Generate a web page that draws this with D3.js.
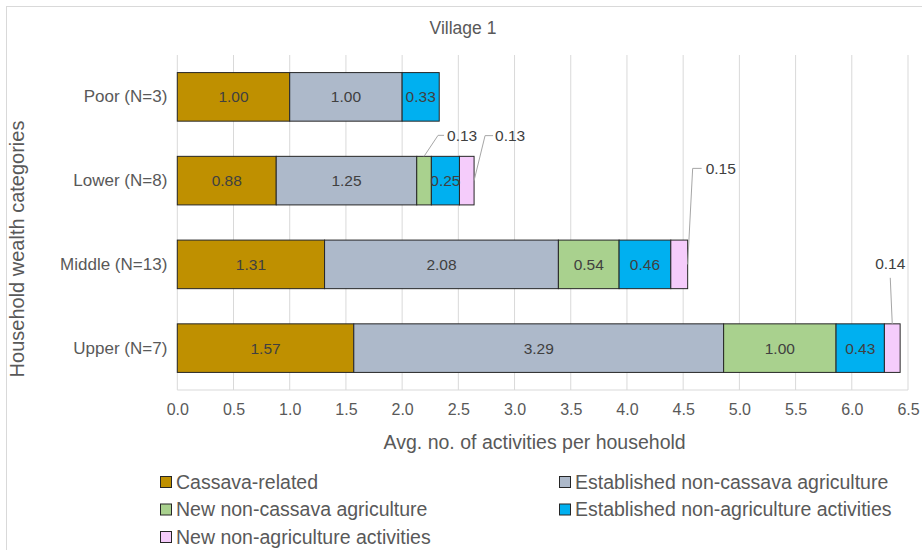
<!DOCTYPE html>
<html>
<head>
<meta charset="utf-8">
<script src="https://cdn.jsdelivr.net/npm/d3@7"></script>
<style>
  body { margin: 0; background: #fff; }
  text { font-family: "Liberation Sans", Arial, sans-serif; }
</style>
</head>
<body>
<script>
// Data
const categories = ["Poor (N=3)", "Lower (N=8)", "Middle (N=13)", "Upper (N=7)"];
const seriesNames = [
  "Cassava-related",
  "Established non-cassava agriculture",
  "New non-cassava agriculture",
  "Established non-agriculture activities",
  "New non-agriculture activities"
];
const cassava       = [1.00, 0.88, 1.31, 1.57];
const estNonCassava = [1.00, 1.25, 2.08, 3.29];
const newNonCassava = [0.00, 0.13, 0.54, 1.00];
const estNonAg      = [0.33, 0.25, 0.46, 0.43];
const newNonAg      = [0.00, 0.13, 0.15, 0.14];
const xTicks = d3.range(0, 6.51, 0.5);

const colors = ["#bf9000", "#adb9ca", "#a9d18e", "#00b0f0", "#f5ccfb"];

// Set dimensions
const W = 922, H = 550;
const plot = { left: 177.3, right: 908, top: 55, bottom: 390 };

const svg = d3.select("body")
  .append("svg")
    .attr("width", W)
    .attr("height", H);

// outer frame (right / bottom run off the picture)
svg.append("rect")
  .attr("x", 6.5).attr("y", 6.5)
  .attr("width", 930).attr("height", 560)
  .attr("fill", "none")
  .attr("stroke", "#d9d9d9");

// Build table for stacking
const table = categories.map((c, i) => ({
  cat: c,
  [seriesNames[0]]: cassava[i],
  [seriesNames[1]]: estNonCassava[i],
  [seriesNames[2]]: newNonCassava[i],
  [seriesNames[3]]: estNonAg[i],
  [seriesNames[4]]: newNonAg[i]
}));
const stacked = d3.stack().keys(seriesNames)(table);

// Scales
const x = d3.scaleLinear().domain([0, 6.5]).range([plot.left, plot.right]);
const y = d3.scaleBand()
  .domain(categories)
  .range([plot.top, plot.bottom])
  .paddingInner(0.42)
  .paddingOuter(0.21);

// Gridlines
svg.append("g")
  .selectAll("line")
  .data(xTicks)
  .join("line")
    .attr("x1", d => x(d)).attr("x2", d => x(d))
    .attr("y1", plot.top).attr("y2", plot.bottom)
    .attr("stroke", "#d9d9d9");

svg.append("line")
  .attr("x1", plot.left).attr("x2", plot.right)
  .attr("y1", plot.bottom).attr("y2", plot.bottom)
  .attr("stroke", "#d9d9d9");

// X axis labels
const xAxis = svg.append("g")
  .attr("transform", `translate(0,${plot.bottom})`)
  .call(d3.axisBottom(x).tickValues(xTicks).tickFormat(d3.format(".1f")).tickSize(0).tickPadding(14));
xAxis.select(".domain").remove();
xAxis.selectAll("text")
  .attr("font-size", 16)
  .attr("fill", "#595959")
  .style("font-family", "'Liberation Sans', Arial, sans-serif");

// Y axis labels
const yAxis = svg.append("g")
  .attr("transform", `translate(${plot.left},0)`)
  .call(d3.axisLeft(y).tickSize(0).tickPadding(10));
yAxis.select(".domain").remove();
yAxis.selectAll("text")
  .attr("font-size", 17)
  .attr("fill", "#595959")
  .style("font-family", "'Liberation Sans', Arial, sans-serif");

// Bars
const layers = svg.append("g")
  .selectAll("g")
  .data(stacked)
  .join("g")
    .attr("fill", (d, i) => colors[i]);

layers.selectAll("rect")
  .data(d => d.filter(s => s[1] - s[0] > 0))
  .join("rect")
    .attr("x", d => x(d[0]))
    .attr("y", d => y(d.data.cat))
    .attr("width", d => x(d[1]) - x(d[0]))
    .attr("height", y.bandwidth())
    .attr("stroke", "#262626")
    .attr("stroke-width", 1);

// Outside labels (callouts): series index, category index and leader shape
const callouts = [
  { s: 2, c: 1, anchor: "top",   pts: [[0, 0], [14, -21], [20, -21]], tx: 23, ty: -21, align: "start" },
  { s: 4, c: 1, anchor: "right", pts: [[0, 0], [11, -45], [19, -45]], tx: 21, ty: -45, align: "start" },
  { s: 4, c: 2, anchor: "right", pts: [[0, 0], [5, -96], [14, -96]],  tx: 18, ty: -96, align: "start" },
  { s: 4, c: 3, anchor: "top",   pts: [[0, 0], [-2, -46]],             tx: -2, ty: -60, align: "middle" }
];
const isCallout = (s, c) => callouts.some(o => o.s === s && o.c === c);

// Inside labels
stacked.forEach((layer, si) => {
  layer.forEach((d, ci) => {
    const v = d[1] - d[0];
    if (v <= 0 || isCallout(si, ci)) return;
    svg.append("text")
      .attr("x", (x(d[0]) + x(d[1])) / 2)
      .attr("y", y(d.data.cat) + y.bandwidth() / 2)
      .attr("dy", "0.35em")
      .attr("text-anchor", "middle")
      .attr("font-size", 15.5)
      .attr("fill", "#404040")
      .text(d3.format(".2f")(v));
  });
});

callouts.forEach(o => {
  const d = stacked[o.s][o.c];
  const v = d[1] - d[0];
  let ax, ay;
  if (o.anchor === "top") {
    ax = (x(d[0]) + x(d[1])) / 2;
    ay = y(d.data.cat);
  } else {
    ax = x(d[1]);
    ay = y(d.data.cat) + y.bandwidth() / 2;
  }
  svg.append("path")
    .attr("d", d3.line()(o.pts.map(p => [ax + p[0], ay + p[1]])))
    .attr("fill", "none")
    .attr("stroke", "#a6a6a6");
  svg.append("text")
    .attr("x", ax + o.tx)
    .attr("y", ay + o.ty)
    .attr("dy", "0.35em")
    .attr("text-anchor", o.align)
    .attr("font-size", 15.5)
    .attr("fill", "#404040")
    .text(d3.format(".2f")(v));
});

// Titles
svg.append("text")
  .attr("x", 463).attr("y", 28)
  .attr("dy", "0.35em")
  .attr("text-anchor", "middle")
  .attr("font-size", 17.5)
  .attr("fill", "#595959")
  .text("Village 1");

svg.append("text")
  .attr("x", (plot.left + plot.right) / 2 - 8).attr("y", 442)
  .attr("dy", "0.35em")
  .attr("text-anchor", "middle")
  .attr("font-size", 19.5)
  .attr("fill", "#595959")
  .text("Avg. no. of activities per household");

svg.append("text")
  .attr("transform", "translate(17,249) rotate(-90)")
  .attr("dy", "0.35em")
  .attr("text-anchor", "middle")
  .attr("font-size", 20)
  .attr("fill", "#595959")
  .text("Household wealth categories");

// Legend
const legend = svg.append("g")
  .selectAll("g")
  .data(seriesNames)
  .join("g")
    .attr("transform", (d, i) => `translate(${i % 2 === 0 ? 160 : 559},${482 + Math.floor(i / 2) * 27.5})`);

legend.append("rect")
  .attr("x", 0.5).attr("y", -5.5)
  .attr("width", 11).attr("height", 11)
  .attr("fill", (d, i) => colors[i])
  .attr("stroke", "#262626");

legend.append("text")
  .attr("x", 16)
  .attr("dy", "0.35em")
  .attr("font-size", 19.5)
  .attr("fill", "#595959")
  .text(d => d);
</script>
</body>
</html>
